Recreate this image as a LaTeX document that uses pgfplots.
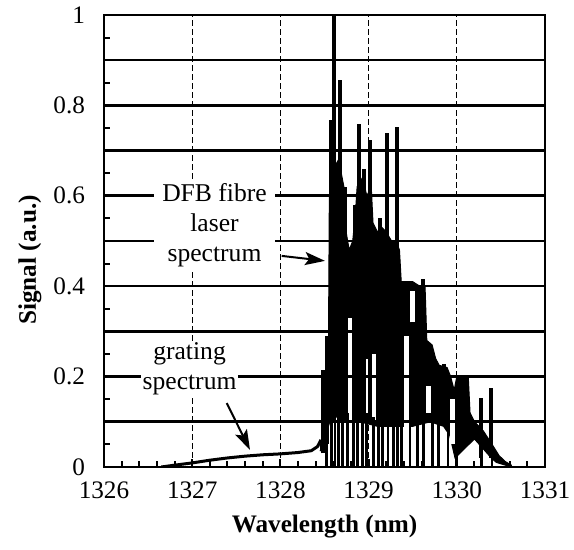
\documentclass[border=0pt]{standalone}
\usepackage{fontspec}
\setmainfont{Liberation Serif}
\usepackage{pgfplots}
\pgfplotsset{compat=1.18}
\usetikzlibrary{arrows.meta}
\newcommand{\fs}{\fontsize{12.6}{15}\selectfont}

\begin{document}
\begin{tikzpicture}
\begin{axis}[
  name=ax,
  width=220.5pt, height=226pt, scale only axis,
  xmin=1326, xmax=1331, ymin=0, ymax=1,
  axis on top,
  axis line style={line width=1.4pt},
  xtick={1326,1327,1328,1329,1330,1331},
  xticklabels={1326,1327,1328,1329,1330,1331},
  minor x tick num=4,
  ytick={0,0.1,0.2,0.3,0.4,0.5,0.6,0.7,0.8,0.9,1},
  yticklabels={0,,0.2,,0.4,,0.6,,0.8,,1},
  minor y tick num=1,
  tick pos=left,
  tick align=inside,
  major tick length=4pt, minor tick length=3pt,
  tick style={line width=1pt, black},
  xmajorgrids, ymajorgrids,
  x grid style={line width=0.6pt, dash pattern=on 3pt off 1.5pt, black},
  y grid style={line width=1.3pt, black},
  tick label style={font=\fs},
  yticklabel style={xshift=-6pt},
  xticklabel style={yshift=-4pt},
  /pgf/number format/assume math mode=true,
  unbounded coords=jump,
  clip=true,
]
% grating spectrum
\addplot[black, line width=1.5pt, line join=round] coordinates {
(1326.65,0.0) (1326.8,0.004) (1327.0,0.009) (1327.2,0.015) (1327.4,0.02)
(1327.6,0.024) (1327.8,0.027) (1328.0,0.029) (1328.2,0.032) (1328.35,0.036)
(1328.42,0.045) (1328.46,0.06)
};
% dense DFB laser spectrum (region between lower and upper envelope)
\addplot[fill=black, draw=black, line width=0.5pt] coordinates {
(1328.45,0.045) (1328.50,0.09) (1328.54,0.11) (1328.555,0.60) (1328.60,0.66)
(1328.66,0.68) (1328.72,0.62) (1328.745,0.52) (1328.78,0.48) (1328.82,0.50)
(1328.85,0.56) (1328.87,0.62) (1328.93,0.64) (1328.98,0.60) (1329.03,0.62)
(1329.05,0.54) (1329.10,0.52) (1329.15,0.53) (1329.20,0.52) (1329.26,0.50)
(1329.31,0.50) (1329.35,0.48) (1329.37,0.41) (1329.50,0.41) (1329.58,0.40)
(1329.64,0.40) (1329.66,0.28) (1329.72,0.27) (1329.76,0.24) (1329.80,0.225)
(1329.89,0.22) (1329.93,0.20) (1329.97,0.17) (1330.00,0.20) (1330.13,0.20)
(1330.15,0.12) (1330.20,0.10) (1330.30,0.08) (1330.40,0.05) (1330.48,0.025)
(1330.55,0.012) (1330.62,0.004)
(1330.62,0.0) (1330.45,0.01) (1330.40,0.018) (1330.20,0.062) (1329.98,0.02)
(1329.92,0.07) (1329.85,0.09) (1329.70,0.10) (1329.50,0.09) (1329.30,0.09)
(1329.10,0.09) (1328.90,0.10) (1328.70,0.12) (1328.56,0.10) (1328.50,0.06)
(1328.45,0.035)
};
% gaps inside the dense spectrum
\addplot[white, line width=2.4pt] coordinates {
(1328.79,0.09) (1328.79,0.33) (1328.79,nan)
(1328.98,0.12) (1328.98,0.24) (1328.98,nan)
(1329.06,0.10) (1329.06,0.25) (1329.06,nan)
(1329.43,0.05) (1329.43,0.29) (1329.43,nan)
(1329.50,0.32) (1329.50,0.39) (1329.50,nan)
(1329.95,0.05) (1329.95,0.15) (1329.95,nan)
(1329.68,0.12) (1329.68,0.18) (1329.68,nan)
};
% mode lines reaching the baseline
\addplot[ycomb, black, line width=1.4pt, mark=none] coordinates {
(1328.52,0.12) (1328.58,0.12) (1328.62,0.12) (1328.66,0.12) (1328.70,0.13) (1328.76,0.12)
(1328.83,0.12) (1328.87,0.12) (1328.93,0.12) (1328.98,0.12) (1329.06,0.11) (1329.11,0.11) (1329.16,0.11)
(1329.22,0.11) (1329.28,0.11) (1329.33,0.11)
(1329.37,0.11) (1329.47,0.11) (1329.55,0.11) (1329.62,0.11) (1329.72,0.12)
(1329.79,0.11) (1329.90,0.11) (1330.00,0.10) (1330.28,0.06) (1330.40,0.05)
};
% tall modes
\addplot[black, line width=2pt] coordinates {
(1328.48,0.03) (1328.48,0.215) (1328.48,nan)
(1328.53,0.05) (1328.53,0.29) (1328.53,nan)
(1328.57,0.10) (1328.57,0.767) (1328.57,nan)
(1328.612,0.10) (1328.612,1.0) (1328.612,nan)
(1328.68,0.10) (1328.68,0.856) (1328.68,nan)
(1328.73,0.10) (1328.73,0.62) (1328.73,nan)
(1328.85,0.10) (1328.85,0.58) (1328.85,nan)
(1328.89,0.10) (1328.89,0.758) (1328.89,nan)
(1328.95,0.10) (1328.95,0.66) (1328.95,nan)
(1329.02,0.10) (1329.02,0.723) (1329.02,nan)
(1329.13,0.10) (1329.13,0.55) (1329.13,nan)
(1329.21,0.10) (1329.21,0.738) (1329.21,nan)
(1329.32,0.10) (1329.32,0.753) (1329.32,nan)
(1329.62,0.10) (1329.62,0.415) (1329.62,nan)
(1329.85,0.10) (1329.85,0.227) (1329.85,nan)
(1330.11,0.05) (1330.11,0.20) (1330.11,nan)
(1330.28,0.02) (1330.28,0.153) (1330.28,nan)
(1330.39,0.02) (1330.39,0.175) (1330.39,nan)
};
\coordinate (dfbtxt) at (axis cs:1327.253,0.534);
\coordinate (dfbA) at (axis cs:1328.015,0.467);
\coordinate (dfbB) at (axis cs:1328.506,0.456);
\coordinate (grtxt) at (axis cs:1326.97,0.218);
\coordinate (grA) at (axis cs:1327.391,0.1415);
\coordinate (grB) at (axis cs:1327.655,0.038);
\coordinate (ylab) at (rel axis cs:0,0.458);
\coordinate (xlab) at (rel axis cs:0.5,0);
\end{axis}
\node[fill=white, align=center, inner xsep=4pt, inner ysep=1pt, font=\fontsize{12.8}{15}\selectfont] at (dfbtxt) {DFB fibre\\laser\\spectrum};
\node[fill=white, align=center, inner xsep=1pt, inner ysep=0.5pt, font=\fontsize{12.8}{15}\selectfont] at (grtxt) {grating\\spectrum};
\draw[line width=1pt, -{Stealth[length=10pt, width=6.5pt, inset=2pt]}] (dfbA) -- (dfbB);
\draw[line width=1pt, -{Stealth[length=10pt, width=6.5pt, inset=2pt]}] (grA) -- (grB);
\node[rotate=90, font=\fs\bfseries] at ([xshift=-37pt]ylab) {Signal (a.u.)};
\node[font=\fs\bfseries] at ([yshift=-30pt]xlab) {Wavelength (nm)};
\pgfresetboundingbox
\path ([xshift=-52pt,yshift=-41.5pt]ax.south west) rectangle ([xshift=14.5pt,yshift=7.5pt]ax.north east);
\end{tikzpicture}
\end{document}
